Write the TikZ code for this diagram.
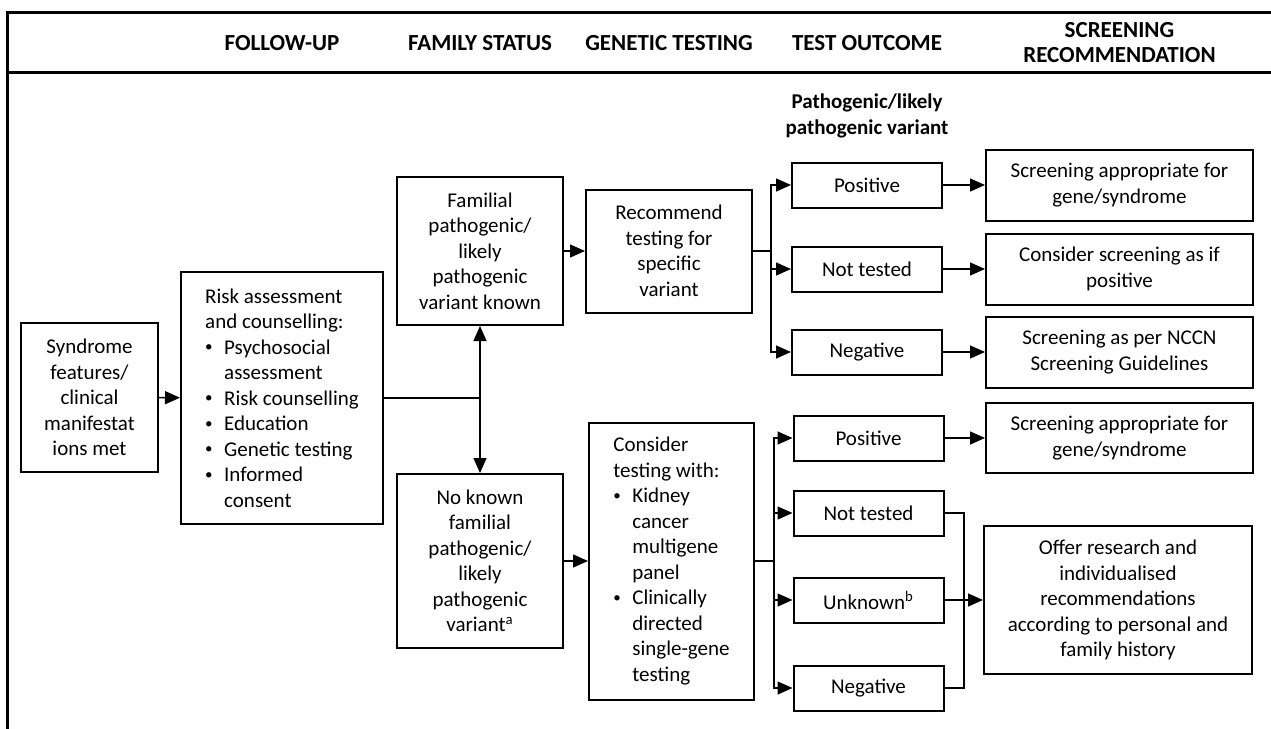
\documentclass[tikz,border=0pt]{standalone}
\usepackage{fontspec}
\setmainfont{Carlito}
\usetikzlibrary{arrows.meta}

\newcommand\boxfont{\fontsize{10.5}{12.75}\selectfont}
\newcommand\headfont{\fontsize{11.5}{12.5}\selectfont\bfseries}
\newcommand\bul{\makebox[9.5pt][l]{\raisebox{0.25ex}{\fontsize{7.5}{7.5}\selectfont\textbullet}}}
\newcommand\hang{\hspace*{9.5pt}}

\begin{document}
\begin{tikzpicture}[x=0.5pt,y=-0.5pt]
\useasboundingbox (0,0) rectangle (1271,729);
% frame
\draw[line width=1.5pt] (1271,12) -- (7,12) -- (7,729);
\draw[line width=1.5pt] (7,72) -- (1271,72);
\begin{scope}[every node/.style={font=\headfont,align=center}]
    \node (hfol) at (282,43) {FOLLOW-UP};
    \node (hfam) at (480,43) {FAMILY STATUS};
    \node (hgen) at (669,43) {GENETIC TESTING};
    \node (hout) at (867,43) {TEST OUTCOME};
    \node (hscr) at (1119.5,43) {SCREENING\\RECOMMENDATION};
\end{scope}
\node[font=\boxfont\bfseries,align=center] (hpath) at (867,116) {Pathogenic/likely\\pathogenic variant};
\begin{scope}[every node/.style={rectangle,draw,line width=1pt,inner sep=0pt,font=\boxfont,align=center}]
    \node[minimum width=68.5pt,minimum height=74.5pt] (synd) at (89.5,397.5) {Syndrome\\features/\\clinical\\manifestat\\ions met};
    \node[minimum width=101pt,minimum height=126pt,align=left] (risk) at (282,398) {Risk assessment\\and counselling:\\\bul Psychosocial\\\hang assessment\\\bul Risk counselling\\\bul Education\\\bul Genetic testing\\\bul Informed\\\hang consent};
    \node[minimum width=83pt,minimum height=74pt] (fam) at (480,251) {Familial\\pathogenic/\\likely\\pathogenic\\variant known};
    \node[minimum width=83pt,minimum height=87pt] (nokn) at (480,561) {No known\\familial\\pathogenic/\\likely\\pathogenic\\variant\textsuperscript{a}};
    \node[minimum width=83pt,minimum height=61.5pt] (rec) at (669,251) {Recommend\\testing for\\specific\\variant};
    \node[minimum width=82.5pt,minimum height=138.5pt,align=left] (cons) at (671.5,561) {Consider\\testing with:\\\bul Kidney\\\hang cancer\\\hang multigene\\\hang panel\\\bul Clinically\\\hang directed\\\hang single-gene\\\hang testing};
    % test outcomes
    \node[minimum width=75pt,minimum height=22.5pt] (pos1) at (867,185) {Positive};
    \node[minimum width=75pt,minimum height=22.5pt] (nt1) at (867,269) {Not tested};
    \node[minimum width=75pt,minimum height=22.5pt] (neg1) at (867,352) {Negative};
    \node[minimum width=75pt,minimum height=22.5pt] (pos2) at (868.5,438) {Positive};
    \node[minimum width=75pt,minimum height=22.5pt] (nt2) at (868.5,513) {Not tested};
    \node[minimum width=75pt,minimum height=22.5pt] (unk) at (868.5,600) {Unknown\textsuperscript{b}};
    \node[minimum width=75pt,minimum height=22.5pt] (neg2) at (868.5,688) {Negative};
    % screening
    \node[minimum width=133.5pt,minimum height=35.5pt] (scr1) at (1119.5,185) {Screening appropriate for\\gene/syndrome};
    \node[minimum width=133.5pt,minimum height=35.5pt] (cscr) at (1119.5,269) {Consider screening as if\\positive};
    \node[minimum width=133.5pt,minimum height=35.5pt] (nccn) at (1119.5,352) {Screening as per NCCN\\Screening Guidelines};
    \node[minimum width=133.5pt,minimum height=35pt] (scr2) at (1119.5,438) {Screening appropriate for\\gene/syndrome};
    \node[minimum width=134pt,minimum height=74pt] (offer) at (1118,600) {Offer research and\\individualised\\recommendations\\according to personal and\\family history};
\end{scope}
\coordinate (jrisk) at (480,398);
\coordinate (bup) at (771,251);
\coordinate (blow) at (774,561);
\coordinate (mrg) at (964,600);
\begin{scope}[>={Triangle[length=7.5pt,width=6.5pt]},
              every edge/.style={draw,line width=0.75pt}]
    \path [->] (synd) edge (risk);
    \path (risk.east) edge (jrisk);
    \path [->] (jrisk) edge (fam);
    \path [->] (jrisk) edge (nokn);
    \path [->] (fam) edge (rec);
    \path [->] (nokn) edge (cons);
    \path (rec) edge (bup);
    \path (cons) edge (blow);
    \path [->] (pos1) edge (scr1);
    \path [->] (nt1) edge (cscr);
    \path [->] (neg1) edge (nccn);
    \path [->] (pos2) edge (scr2);
    \path [->] (unk) edge (offer);
    \draw [->,line width=0.75pt] (bup) |- (pos1);
    \draw [->,line width=0.75pt] (bup) |- (nt1);
    \draw [->,line width=0.75pt] (bup) |- (neg1);
    \draw [->,line width=0.75pt] (blow) |- (pos2);
    \draw [->,line width=0.75pt] (blow) |- (nt2);
    \draw [->,line width=0.75pt] (blow) |- (unk);
    \draw [->,line width=0.75pt] (blow) |- (neg2);
    \draw [line width=0.75pt] (nt2) -| (mrg) |- (neg2);
\end{scope}
\end{tikzpicture}
\end{document}
